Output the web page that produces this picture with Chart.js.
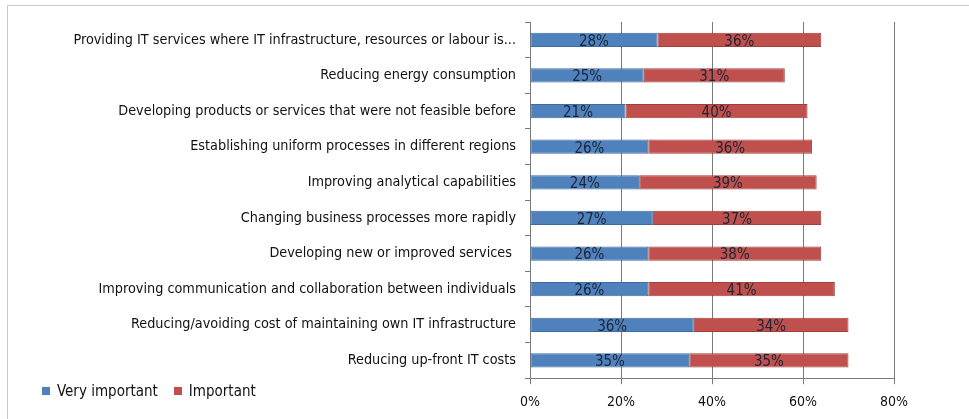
<!DOCTYPE html>
<html>
<head>
<meta charset="utf-8">
<script src="https://cdn.jsdelivr.net/npm/chart.js@4"></script>
<style>
    html, body { margin: 0; padding: 0; background: #fff; }
    .wrap { position: relative; width: 969px; height: 419px; }
    .frame { position: absolute; left: 7px; top: 5px; right: 0; bottom: 0;
             border-top: 1px solid #c8c8c8; border-left: 1px solid #c8c8c8; }
    .legend { position: absolute; left: 42px; top: 382px; font: 15px "Liberation Sans Narrow", "DejaVu Sans Condensed", sans-serif; color: #111; }
    .legend span.box { display: inline-block; width: 8px; height: 8px; margin-right: 7px; vertical-align: 1px; }
    .legend span.gap { display: inline-block; width: 16px; }
    canvas { position: absolute; left: 0; top: 0; }
</style>
</head>
<body>
<div class="wrap">
    <div class="frame"></div>
    <canvas id="myChart" width="969" height="419"></canvas>
    <div class="legend"><span class="box" style="background:#4f81bd"></span>Very important<span class="gap"></span><span class="box" style="background:#c0504d"></span>Important</div>
</div>
<script>
const categories = [
    "Providing IT services where IT infrastructure, resources or labour is...",
    "Reducing energy consumption",
    "Developing products or services that were not feasible before",
    "Establishing uniform processes in different regions",
    "Improving analytical capabilities",
    "Changing business processes more rapidly",
    "Developing new or improved services ",
    "Improving communication and collaboration between individuals",
    "Reducing/avoiding cost of maintaining own IT infrastructure",
    "Reducing up-front IT costs"
];
const veryImportant = [28, 25, 21, 26, 24, 27, 26, 26, 36, 35];
const important = [36, 31, 40, 36, 39, 37, 38, 41, 34, 35];
const xTicks = [0, 20, 40, 60, 80];

const fontFamily = '"Liberation Sans Narrow", "DejaVu Sans Condensed", sans-serif';

// draws the % value in the middle of each bar segment
const barLabels = {
    id: 'barLabels',
    afterDatasetsDraw(chart) {
        const ctx = chart.ctx;
        ctx.save();
        ctx.font = '15px ' + fontFamily;
        ctx.fillStyle = '#1c2536';
        ctx.textAlign = 'center';
        ctx.textBaseline = 'middle';
        chart.data.datasets.forEach((ds, i) => {
            chart.getDatasetMeta(i).data.forEach((bar, j) => {
                const p = bar.getProps(['x', 'y', 'base'], true);
                ctx.fillText(ds.data[j] + '%', (p.x + p.base) / 2, p.y + 2);
            });
        });
        ctx.restore();
    }
};

let ctx = document.getElementById('myChart').getContext('2d');
let chart = new Chart(ctx, {
    type: 'bar',
    data: {
        labels: categories,
        datasets: [
            {
                label: 'Very important',
                data: veryImportant,
                backgroundColor: '#4f81bd',
                borderColor: '#3d6ca3',
                borderWidth: 1,
                borderSkipped: false
            },
            {
                label: 'Important',
                data: important,
                backgroundColor: '#c0504d',
                borderColor: '#a03f3c',
                borderWidth: 1,
                borderSkipped: false
            }
        ]
    },
    options: {
        indexAxis: 'y',
        responsive: false,
        animation: false,
        categoryPercentage: 1,
        barPercentage: 0.4,
        layout: { padding: { top: 22, right: 75, bottom: -2, left: 0 } },
        plugins: {
            legend: { display: false },
            tooltip: { enabled: false }
        },
        scales: {
            x: {
                stacked: true,
                min: 0,
                max: 80,
                afterBuildTicks(axis) {
                    axis.ticks = xTicks.map(v => ({ value: v }));
                },
                ticks: {
                    callback: v => v + '%',
                    color: '#111',
                    font: { family: fontFamily, size: 14 },
                    padding: 10
                },
                grid: { color: '#7a7a7a', tickLength: 6 },
                border: { color: '#7a7a7a' }
            },
            y: {
                stacked: true,
                afterFit(axis) { axis.width = 530; },
                ticks: {
                    color: '#111',
                    font: { family: fontFamily, size: 14.3 },
                    padding: 9,
                    autoSkip: false
                },
                grid: { offset: true, drawOnChartArea: false, color: '#7a7a7a', tickLength: 5 },
                border: { color: '#7a7a7a' }
            }
        }
    },
    plugins: [barLabels]
});
</script>
</body>
</html>
